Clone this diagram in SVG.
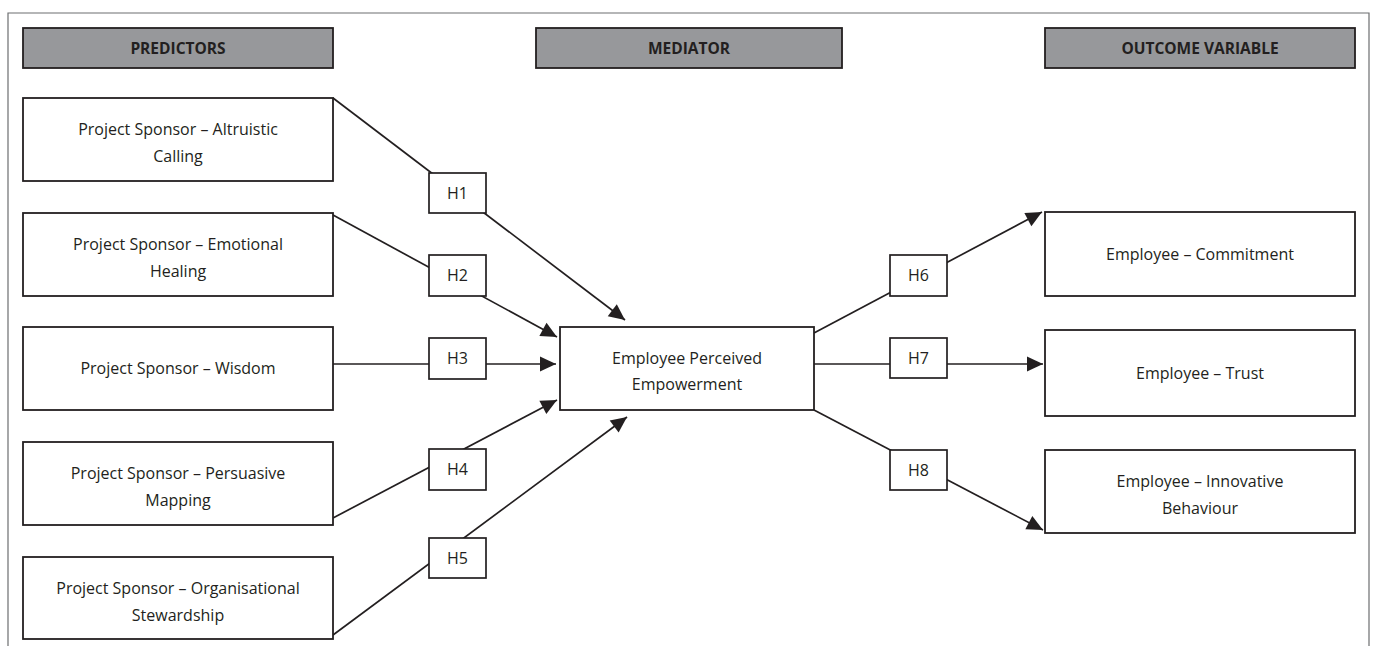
<svg xmlns="http://www.w3.org/2000/svg" width="1375" height="646" viewBox="0 0 1375 646">
<style>
.frame{fill:none;stroke:#6d6e70;stroke-width:1.2}
.hdr{fill:#97989b;stroke:#231f20;stroke-width:1.8}
.box{fill:#fff;stroke:#231f20;stroke-width:1.8}
.hb{fill:#fff;stroke:#231f20;stroke-width:1.7}
.ht{font-family:"Open Sans",sans-serif;font-weight:bold;font-size:15.5px;fill:#231f20;text-anchor:middle}
.t{font-family:"Open Sans",sans-serif;font-size:16px;fill:#231f20;text-anchor:middle}
.c line{stroke:#231f20;stroke-width:1.7}
</style>
<defs>
<marker id="arr" viewBox="0 0 10 10" refX="10" refY="5" markerWidth="10" markerHeight="10" markerUnits="userSpaceOnUse" orient="auto" style="overflow:visible">
<path d="M0,-2.5 L16,5 L0,12.5 Z" fill="#231f20" transform="translate(-6,0)"/>
</marker>
</defs>
<rect width="1375" height="646" fill="#fff"/>
<path class="frame" d="M8,646 L8,13 L1369,13 L1369,646"/>

<g id="hdr-predictors"><rect class="hdr" x="23" y="28" width="310" height="40"/><text class="ht" x="178" y="53.5">PREDICTORS</text></g>
<g id="hdr-mediator"><rect class="hdr" x="536" y="28" width="306" height="40"/><text class="ht" x="689" y="53.5">MEDIATOR</text></g>
<g id="hdr-outcome"><rect class="hdr" x="1045" y="28" width="310" height="40"/><text class="ht" x="1200" y="53.5">OUTCOME VARIABLE</text></g>

<g class="c" id="connectors">
<line x1="333" y1="98" x2="625" y2="320" marker-end="url(#arr)"/>
<line x1="333" y1="215" x2="557" y2="337" marker-end="url(#arr)"/>
<line x1="333" y1="364" x2="556" y2="364" marker-end="url(#arr)"/>
<line x1="333" y1="518" x2="557" y2="400" marker-end="url(#arr)"/>
<line x1="333" y1="635" x2="627" y2="417" marker-end="url(#arr)"/>
<line x1="814" y1="333" x2="1042" y2="212" marker-end="url(#arr)"/>
<line x1="814" y1="364" x2="1043" y2="364" marker-end="url(#arr)"/>
<line x1="814" y1="410" x2="1043" y2="530" marker-end="url(#arr)"/>
</g>

<g id="p1"><rect class="box" x="23" y="98" width="310" height="83"/><text class="t" x="178" y="135">Project Sponsor – Altruistic</text><text class="t" x="178" y="162">Calling</text></g>
<g id="p2"><rect class="box" x="23" y="213" width="310" height="83"/><text class="t" x="178" y="250">Project Sponsor – Emotional</text><text class="t" x="178" y="277">Healing</text></g>
<g id="p3"><rect class="box" x="23" y="327" width="310" height="83"/><text class="t" x="178" y="374">Project Sponsor – Wisdom</text></g>
<g id="p4"><rect class="box" x="23" y="442" width="310" height="83"/><text class="t" x="178" y="479">Project Sponsor – Persuasive</text><text class="t" x="178" y="506">Mapping</text></g>
<g id="p5"><rect class="box" x="23" y="557" width="310" height="82"/><text class="t" x="178" y="594">Project Sponsor – Organisational</text><text class="t" x="178" y="621">Stewardship</text></g>

<g id="h1"><rect class="hb" x="429" y="173" width="57" height="40"/><text class="t" x="457.5" y="199">H1</text></g>
<g id="h2"><rect class="hb" x="429" y="255" width="57" height="41"/><text class="t" x="457.5" y="281">H2</text></g>
<g id="h3"><rect class="hb" x="429" y="338" width="57" height="41"/><text class="t" x="457.5" y="364">H3</text></g>
<g id="h4"><rect class="hb" x="429" y="449" width="57" height="41"/><text class="t" x="457.5" y="475">H4</text></g>
<g id="h5"><rect class="hb" x="429" y="538" width="57" height="40"/><text class="t" x="457.5" y="564">H5</text></g>

<g id="mediator"><rect class="box" x="560" y="327" width="254" height="83"/><text class="t" x="687" y="364">Employee Perceived</text><text class="t" x="687" y="390">Empowerment</text></g>

<g id="h6"><rect class="hb" x="890" y="255" width="57" height="41"/><text class="t" x="918.5" y="281">H6</text></g>
<g id="h7"><rect class="hb" x="890" y="338" width="57" height="40"/><text class="t" x="918.5" y="364">H7</text></g>
<g id="h8"><rect class="hb" x="890" y="450" width="57" height="40"/><text class="t" x="918.5" y="476">H8</text></g>

<g id="o1"><rect class="box" x="1045" y="212" width="310" height="84"/><text class="t" x="1200" y="260">Employee – Commitment</text></g>
<g id="o2"><rect class="box" x="1045" y="330" width="310" height="86"/><text class="t" x="1200" y="379">Employee – Trust</text></g>
<g id="o3"><rect class="box" x="1045" y="450" width="310" height="83"/><text class="t" x="1200" y="487">Employee – Innovative</text><text class="t" x="1200" y="514">Behaviour</text></g>
</svg>
